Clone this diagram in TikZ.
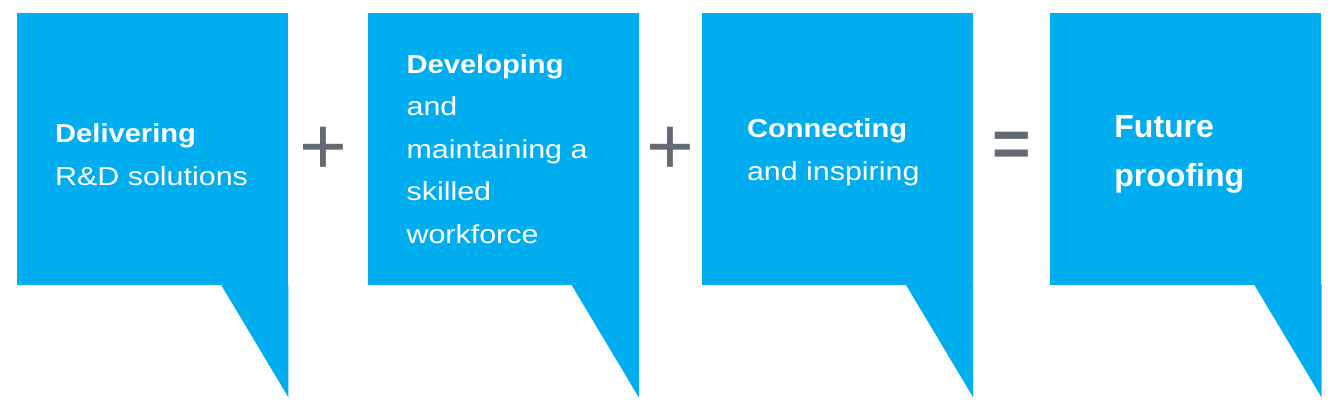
\documentclass[tikz,border=0pt]{standalone}
\usepackage{fontspec}
\setmainfont{Liberation Sans}
\newfontfamily\boxfont[FakeStretch=1.17, BoldFeatures={FakeStretch=1.12}]{Liberation Sans}
\usepackage{tikz}
\usetikzlibrary{positioning, calc}
\usepackage{xcolor}
\definecolor{bubblecolor}{RGB}{0,174,239}
\definecolor{opcolor}{RGB}{100,106,114}

\begin{document}
\begin{tikzpicture}[
    x=1pt, y=1pt,
    bubble/.style={rectangle, fill=bubblecolor, inner sep=0pt, minimum width=271pt, minimum height=272pt},
    boxtext/.style={inner sep=0pt, align=left, text=white, font=\boxfont\fontsize{26}{42.5}\selectfont},
    bigtext/.style={inner sep=0pt, align=left, text=white, font=\fontsize{32}{49}\selectfont\bfseries},
    op/.style={inner sep=0pt, text=opcolor, font=\fontsize{82}{82}\selectfont},
]
\useasboundingbox (0,0) rectangle (1332,-410);

\node[bubble, anchor=north west] (deliver) at (17,-13) {};
\node[bubble, right=79pt of deliver] (develop) {};
\node[bubble, right=63pt of develop] (connect) {};
\node[bubble, right=77pt of connect] (future) {};

% tails of the speech bubbles
\foreach \b in {deliver, develop, connect, future}
    \fill[bubblecolor] ([yshift=1pt]\b.south east) -- ++(0,-113) -- ([xshift=-67pt]\b.south east) -- ++(0,1) -- cycle;

\node[boxtext, right=38pt of deliver.west, yshift=-5.5pt] (delivertxt) {\textbf{Delivering}\\R\&D solutions};
\node[boxtext, right=39pt of develop.west] (developtxt) {\textbf{Developing}\\and\\maintaining a\\skilled\\workforce};
\node[boxtext, right=45pt of connect.west, yshift=-3pt] (connecttxt) {\textbf{Connecting}\\and inspiring};
\node[bigtext, right=64pt of future.west, yshift=-5pt] (futuretxt) {Future\\proofing};

\node[op, xshift=-4pt, yshift=-2pt] (plus1) at ($(deliver.east)!0.5!(develop.west)$) {+};
\node[op, yshift=-2pt] (plus2) at ($(develop.east)!0.5!(connect.west)$) {+};
\node[op, font=\fontsize{66}{66}\selectfont\bfseries] (equals) at ($(connect.east)!0.5!(future.west)$) {=};
\end{tikzpicture}
\end{document}
